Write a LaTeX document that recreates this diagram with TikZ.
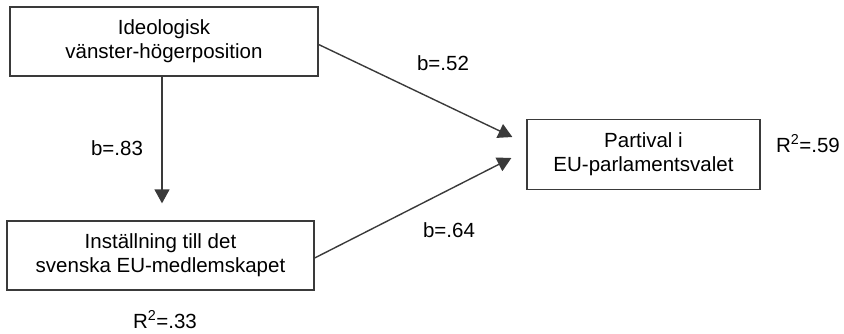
\documentclass[tikz,border=0pt]{standalone}
\usepackage{fontspec}
\setmainfont{Liberation Sans}
\usetikzlibrary{arrows.meta}
\definecolor{linegray}{HTML}{3A3A3A}
\tikzset{
	varbox/.style = {draw = linegray, line width = 1.3pt, align = center, inner sep = 0pt},
	path/.style = {draw = linegray, line width = 1.4pt, -{Triangle[length = 14pt, width = 15pt]}},
	coef/.style = {inner sep = 0pt, anchor = base}
}
\begin{document}
\begin{tikzpicture}[x = 1pt, y = -1pt, font = \fontsize{20.5}{24}\selectfont]
			\useasboundingbox (0,0) rectangle (844,333);
			%variables
			\node[varbox, minimum width = 308pt, minimum height = 69pt] (ideologi) at (164,41.5) {Ideologisk\\vänster-högerposition};
			\node[varbox, minimum width = 307pt, minimum height = 69pt] (installning) at (160.5,255.5) {Inställning till det\\svenska EU-medlemskapet};
			\node[varbox, minimum width = 233pt, minimum height = 70pt] (partival) at (643.5,154.5) {Partival i\\EU-parlamentsvalet};
			%arrow ends
			\coordinate (tipa) at ([xshift = -14pt, yshift = 17.5pt]partival.west);
			\coordinate (tipb) at ([xshift = -15pt, yshift = -3.5pt]partival.west);
			\coordinate (tipc) at ([xshift = 1.5pt, yshift = 17pt]installning.north);
			%paths
			\draw[path] (ideologi.south -| tipc) -- (tipc);
			\draw[path] ([yshift = -3pt]ideologi.east) -- (tipa);
			\draw[path] ([yshift = -2.5pt]installning.east) -- (tipb);
			%coefficients
			\node[coef] (bc) at (117,155) {b=.83};
			\node[coef] (ba) at (443,70) {b=.52};
			\node[coef] (bb) at (449,237) {b=.64};
			\node[coef] (ra) at (808,152) {R\textsuperscript{2}=.59};
			\node[coef] (rb) at (165,328) {R\textsuperscript{2}=.33};
		\end{tikzpicture}
\end{document}
